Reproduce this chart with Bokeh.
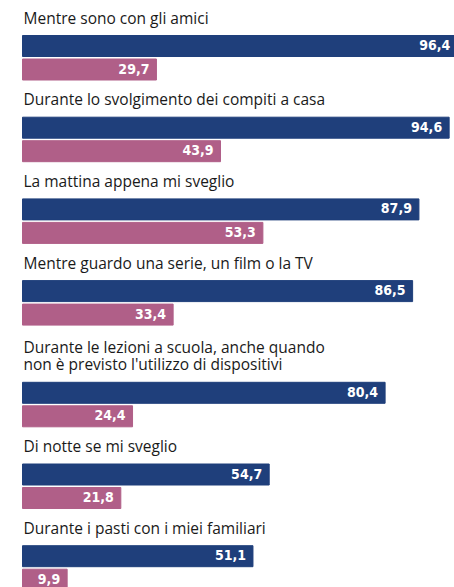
from bokeh.plotting import figure
from bokeh.models import Range1d, ColumnDataSource
from bokeh.core.properties import value
from bokeh.embed import file_html
from bokeh.resources import INLINE

categories = [
    "Mentre sono con gli amici",
    "Durante lo svolgimento dei compiti a casa",
    "La mattina appena mi sveglio",
    "Mentre guardo una serie, un film o la TV",
    "Durante le lezioni a scuola, anche quando\nnon è previsto l'utilizzo di dispositivi",
    "Di notte se mi sveglio",
    "Durante i pasti con i miei familiari",
]
series_a = [96.4, 94.6, 87.9, 86.5, 80.4, 54.7, 51.1]
series_b = [29.7, 43.9, 53.3, 33.4, 24.4, 21.8, 9.9]

def fmt(v):
    return f"{v:.1f}".replace(".", ",")

# layout (pixel-like vertical units)
first_top = 35.0
step = 81.7
extra_line = 20.0
bar_h = 21.0
gap = 2.5

tops = []
acc = first_top
for i, c in enumerate(categories):
    if i > 0:
        acc += step + extra_line * (c.count("\n"))
    tops.append(acc)

ya = [t + bar_h / 2 for t in tops]
yb = [t + bar_h + gap + bar_h / 2 for t in tops]
ylab = [t - 7 for t in tops]

src = ColumnDataSource(dict(
    cat=categories, a=series_a, b=series_b,
    la=[fmt(v) for v in series_a], lb=[fmt(v) for v in series_b],
    ya=ya, yb=yb, ylab=ylab, zero=[0] * len(categories),
))

W, H = 454, 587
px = 4.51
x0 = -22 / px
p = figure(width=W, height=H, output_backend="svg", toolbar_location=None,
           x_range=Range1d(x0, x0 + W / px), y_range=Range1d(H, 0),
           min_border=0, outline_line_color=None,
           x_axis_location=None, y_axis_location=None)
p.grid.visible = False
p.background_fill_color = "white"
p.border_fill_color = "white"

blue = "#1f3f7b"
pink = "#b05f88"
p.hbar(y="ya", left="zero", right="a", height=bar_h, color=blue, source=src)
p.hbar(y="yb", left="zero", right="b", height=bar_h, color=pink, source=src)

p.text(x="zero", y="ylab", text="cat", source=src, x_offset=1,
       text_font=value("Open Sans"), text_font_size="15.5px",
       text_color="#1a1a1a", text_baseline="bottom", text_align="left",
       text_line_height=0.8)

for col, ycol in (("a", "ya"), ("b", "yb")):
    p.text(x=col, y=ycol, text="l" + col, source=src, x_offset=-7, y_offset=-1,
           text_font=value("DejaVu Sans Condensed"), text_font_style="bold",
           text_font_size="14px", text_color="white",
           text_align="right", text_baseline="middle")

open("out.html", "w").write(file_html(p, INLINE))
